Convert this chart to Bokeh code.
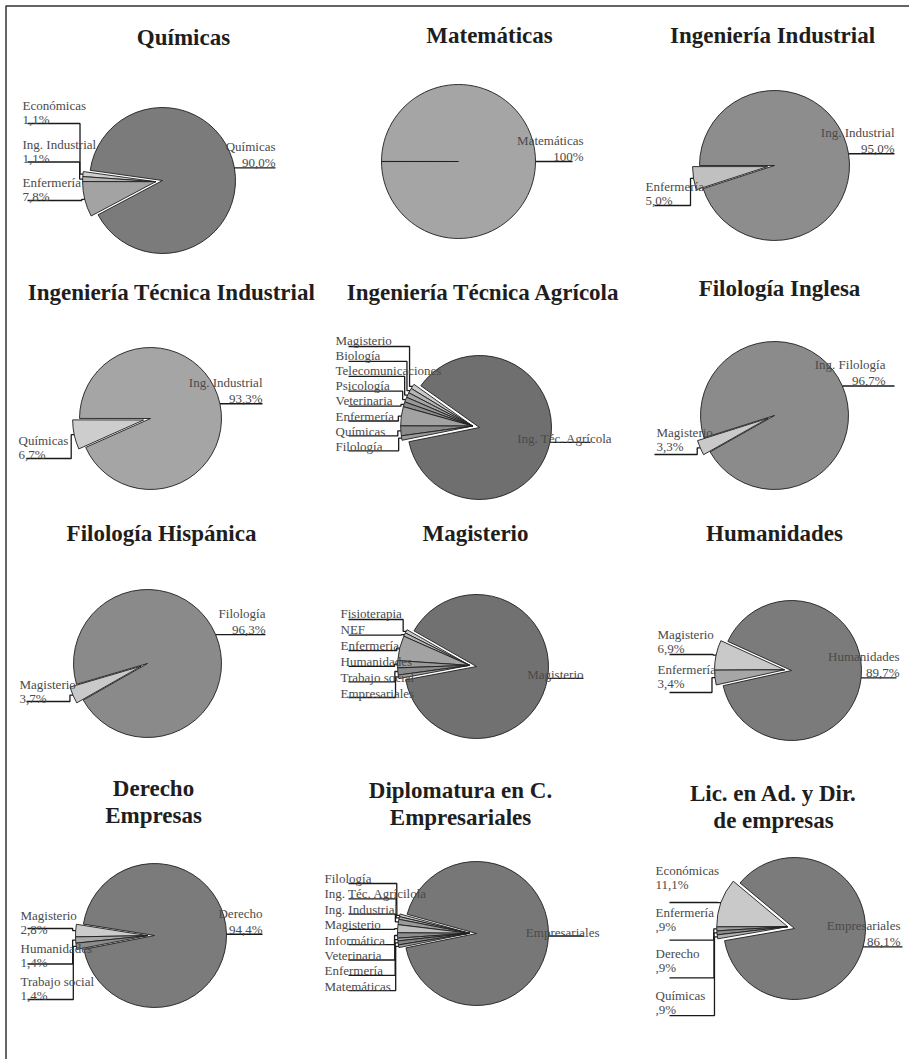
import numpy as np
from bokeh.plotting import figure
from bokeh.models import Range1d, ColumnDataSource
from bokeh.core.properties import value
from bokeh.embed import file_html
from bokeh.resources import INLINE

# ---------------- data (first entry = main slice, rest = small slices top->bottom) ----------------
quimicas_cats = ["Químicas", "Económicas", "Ing. Industrial", "Enfermería"]
quimicas_vals = [90.0, 1.1, 1.1, 7.8]

matematicas_cats = ["Matemáticas"]
matematicas_vals = [100.0]

ing_industrial_cats = ["Ing. Industrial", "Enfermería"]
ing_industrial_vals = [95.0, 5.0]

ing_tec_industrial_cats = ["Ing. Industrial", "Químicas"]
ing_tec_industrial_vals = [93.3, 6.7]

ing_tec_agricola_cats = ["Ing. Téc. Agrícola", "Magisterio", "Biología", "Telecomunicaciones",
                         "Psicología", "Veterinaria", "Enfermería", "Químicas", "Filología"]
ing_tec_agricola_vals = [87.0, 1.1, 1.1, 1.1, 1.1, 1.1, 4.3, 2.2, 1.0]

filologia_inglesa_cats = ["Ing. Filología", "Magisterio"]
filologia_inglesa_vals = [96.7, 3.3]

filologia_hispanica_cats = ["Filología", "Magisterio"]
filologia_hispanica_vals = [96.3, 3.7]

magisterio_cats = ["Magisterio", "Fisioterapia", "NEF", "Enfermería", "Humanidades",
                   "Trabajo social", "Empresariales"]
magisterio_vals = [88.8, 0.8, 0.8, 5.6, 1.6, 1.6, 0.8]

humanidades_cats = ["Humanidades", "Magisterio", "Enfermería"]
humanidades_vals = [89.7, 6.9, 3.4]

derecho_cats = ["Derecho", "Magisterio", "Humanidades", "Trabajo social"]
derecho_vals = [94.4, 2.8, 1.4, 1.4]

diplomatura_cats = ["Empresariales", "Filología", "Ing. Téc. Agrícilola", "Ing. Industrial",
                    "Magisterio", "Informática", "Veterinaria", "Enfermería", "Matemáticas"]
diplomatura_vals = [92.5, 0.6, 0.6, 1.2, 1.8, 1.2, 0.6, 0.9, 0.6]

ade_cats = ["Empresariales", "Económicas", "Enfermería", "Derecho", "Químicas"]
ade_vals = [86.1, 11.1, 0.9, 0.9, 0.9]

titles = [
    ["Químicas"], ["Matemáticas"], ["Ingeniería Industrial"],
    ["Ingeniería Técnica Industrial"], ["Ingeniería Técnica Agrícola"], ["Filología Inglesa"],
    ["Filología Hispánica"], ["Magisterio"], ["Humanidades"],
    ["Derecho", "Empresas"], ["Diplomatura en C.", "Empresariales"],
    ["Lic. en Ad. y Dir.", "de empresas"],
]

# ---------------- layout / style (page pixel coordinates) ----------------
SMALL_COLORS = ["#c9c9c9", "#a9a9a9", "#8f8f8f", "#b7b7b7", "#9c9c9c", "#a0a0a0", "#858585", "#b0b0b0"]

panels = [
    dict(cats=quimicas_cats, vals=quimicas_vals, tpos=(183, 37), cx=162, cy=180, r=73, mid=10,
         big="#7b7b7b", small=["#cfcfcf", "#b3b3b3", "#a3a3a3"],
         lab=dict(tx=22, ty0=105, tdy=38.5, lx=27, ly0=123, ldy=38.5, pct=True),
         rl=dict(le=275, te=275, pct=True)),
    dict(cats=matematicas_cats, vals=matematicas_vals, tpos=(489, 35), cx=458, cy=161, r=77, mid=0,
         big="#a5a5a5", small=[], lab=None, rl=dict(le=572, te=583, pct=True)),
    dict(cats=ing_industrial_cats, vals=ing_industrial_vals, tpos=(772, 35), cx=774, cy=165, r=75, mid=9,
         big="#8d8d8d", small=["#c0c0c0"],
         lab=dict(tx=645, ty0=186, tdy=38, lx=654, ly0=205, ldy=38, pct=True),
         rl=dict(le=894, te=894, pct=True)),
    dict(cats=ing_tec_industrial_cats, vals=ing_tec_industrial_vals, tpos=(171, 292), cx=150, cy=418, r=71, mid=12,
         big="#a5a5a5", small=["#cdcdcd"],
         lab=dict(tx=18, ty0=440, tdy=38, lx=26, ly0=458, ldy=38, pct=True),
         rl=dict(le=262, te=262, pct=True)),
    dict(cats=ing_tec_agricola_cats, vals=ing_tec_agricola_vals, tpos=(483, 292), cx=479, cy=427, r=72, mid=-12,
         big="#6f6f6f", small=["#c9c9c9", "#b5b5b5", "#a5a5a5", "#999999", "#8c8c8c", "#a2a2a2", "#8a8a8a", "#9a9a9a"],
         lab=dict(tx=335, ty0=340, tdy=15.1, lx=348, ly0=346, ldy=14.9, pct=False),
         rl=dict(le=590, te=612, pct=False)),
    dict(cats=filologia_inglesa_cats, vals=filologia_inglesa_vals, tpos=(779, 288), cx=774, cy=415, r=74, mid=23.5,
         big="#8b8b8b", small=["#c9c9c9"],
         lab=dict(tx=656, ty0=432, tdy=38, lx=654, ly0=454, ldy=38, pct=True),
         rl=dict(le=894, te=885, pct=True)),
    dict(cats=filologia_hispanica_cats, vals=filologia_hispanica_vals, tpos=(161, 533), cx=147, cy=663, r=74, mid=23,
         big="#8a8a8a", small=["#c9c9c9"],
         lab=dict(tx=19, ty0=684, tdy=38, lx=26, ly0=701, ldy=38, pct=True),
         rl=dict(le=265, te=265, pct=True)),
    dict(cats=magisterio_cats, vals=magisterio_vals, tpos=(475, 533), cx=476, cy=666, r=72, mid=-9.5,
         big="#717171", small=["#c9c9c9", "#b5b5b5", "#a3a3a3", "#9b9b9b", "#8a8a8a", "#9f9f9f"],
         lab=dict(tx=340, ty0=613, tdy=16, lx=348, ly0=619, ldy=15.6, pct=False),
         rl=dict(le=583, te=583, pct=False)),
    dict(cats=humanidades_cats, vals=humanidades_vals, tpos=(774, 533), cx=791, cy=670, r=70, mid=-6,
         big="#7b7b7b", small=["#c9c9c9", "#a6a6a6"],
         lab=dict(tx=657, ty0=634, tdy=35, lx=669, ly0=654, ldy=38, pct=True),
         rl=dict(le=896, te=899, pct=True)),
    dict(cats=derecho_cats, vals=derecho_vals, tpos=(153, 788), cx=154, cy=935, r=72, mid=1,
         big="#7b7b7b", small=["#cbcbcb", "#a8a8a8", "#8c8c8c"],
         lab=dict(tx=20, ty0=915, tdy=33, lx=27, ly0=928, ldy=35.5, pct=True),
         rl=dict(le=262, te=262, pct=True)),
    dict(cats=diplomatura_cats, vals=diplomatura_vals, tpos=(460, 790), cx=476, cy=933, r=72, mid=-2,
         big="#777777", small=["#c9c9c9", "#b0b0b0", "#9a9a9a", "#c0c0c0", "#8e8e8e", "#a8a8a8", "#858585", "#9e9e9e"],
         lab=dict(tx=324, ty0=878, tdy=15.4, lx=348, ly0=883, ldy=15.3, pct=False),
         rl=dict(le=583, te=599, pct=False)),
    dict(cats=ade_cats, vals=ade_vals, tpos=(773, 793), cx=794, cy=928, r=71, mid=-15,
         big="#7b7b7b", small=["#c9c9c9", "#9f9f9f", "#8a8a8a", "#b0b0b0"],
         lab=dict(tx=655, ty0=870, tdy=41.5, lx=669, ly0=902, ldy=37.7, pct=True),
         rl=dict(le=902, te=900, pct=True)),
]

EXPLODE = 7.0
SERIF = "Liberation Serif"


def fmt_pct(v):
    if v >= 99.95:
        return "100%"
    s = f"{v:.1f}".replace(".", ",")
    if s.startswith("0"):
        s = s[1:]
    return s + "%"


W, H = 909, 1059
p = figure(width=W, height=H, x_range=Range1d(0, W), y_range=Range1d(-H, 0),
           output_backend="svg", toolbar_location=None, min_border=0,
           x_axis_location=None, y_axis_location=None)
p.grid.visible = False
p.outline_line_color = None
p.background_fill_color = "white"
p.border_fill_color = "white"

wedges = dict(x=[], y=[], r=[], s=[], e=[], fill=[])
lead_xs, lead_ys = [], []
ltext = dict(x=[], y=[], t=[])
rtext = dict(x=[], y=[], t=[])
ttext = dict(x=[], y=[], t=[])

for k, pn in enumerate(panels):
    cats, vals = pn["cats"], np.array(pn["vals"], dtype=float)
    deg = vals / vals.sum() * 360.0
    cx, cy, r, m = pn["cx"], pn["cy"], pn["r"], pn["mid"]
    big_span = min(deg[0], 359.9)
    b0, b1 = m - big_span / 2, m + big_span / 2
    wedges["x"].append(cx); wedges["y"].append(-cy); wedges["r"].append(r)
    wedges["s"].append(np.radians(b0)); wedges["e"].append(np.radians(b1))
    wedges["fill"].append(pn["big"])

    # right label of main slice
    rl = pn["rl"]
    ax, ay = cx + r * np.cos(np.radians(m)), cy - r * np.sin(np.radians(m))
    lead_xs.append([ax, rl["le"]]); lead_ys.append([-ay, -ay])
    if rl["pct"]:
        rtext["x"] += [rl["te"], rl["te"]]
        rtext["y"] += [-(ay - 21), -(ay - 5)]
        rtext["t"] += [cats[0], fmt_pct(vals[0])]
    else:
        rtext["x"].append(rl["te"]); rtext["y"].append(-(ay - 4)); rtext["t"].append(cats[0])

    # small slices, exploded as a group
    if len(cats) > 1:
        g0 = b1
        gmid = np.radians(g0 + deg[1:].sum() / 2)
        ecx = cx + EXPLODE * np.cos(gmid)
        ecy = cy - EXPLODE * np.sin(gmid)
        a = g0
        lab = pn["lab"]
        for i in range(1, len(cats)):
            s, e = a, a + deg[i]
            a = e
            wedges["x"].append(ecx); wedges["y"].append(-ecy); wedges["r"].append(r)
            wedges["s"].append(np.radians(s)); wedges["e"].append(np.radians(e))
            cols = pn["small"] if pn["small"] else SMALL_COLORS
            wedges["fill"].append(cols[(i - 1) % len(cols)])
            am = np.radians((s + e) / 2)
            sx, sy = ecx + r * np.cos(am), ecy - r * np.sin(am)
            j = i - 1
            ly = lab["ly0"] + j * lab["ldy"]
            ty = lab["ty0"] + j * lab["tdy"]
            conn = sx - 3
            lead_xs.append([lab["lx"], conn, conn, sx])
            lead_ys.append([-ly, -ly, -sy, -sy])
            ltext["x"].append(lab["tx"]); ltext["y"].append(-ty); ltext["t"].append(cats[i])
            if lab["pct"]:
                ltext["x"].append(lab["tx"]); ltext["y"].append(-(ty + 14)); ltext["t"].append(fmt_pct(vals[i]))

    # title
    tx, ty = pn["tpos"]
    for li, line in enumerate(titles[k]):
        ttext["x"].append(tx); ttext["y"].append(-(ty + li * 27)); ttext["t"].append(line)

# frame (top and left edges)
p.multi_line(xs=[[5.5, 5.5, W]], ys=[[-H, -5.5, -5.5]], line_color="#333333", line_width=1.5)

p.wedge(x="x", y="y", radius="r", start_angle="s", end_angle="e", fill_color="fill",
        line_color="#1e1e1e", line_width=0.9, direction="anticlock",
        source=ColumnDataSource(wedges))

p.multi_line(xs=lead_xs, ys=lead_ys, line_color="#1a1a1a", line_width=1.3)

p.text(x="x", y="y", text="t", source=ColumnDataSource(ltext), text_align="left",
       text_baseline="alphabetic", text_font=value(SERIF), text_font_size="13px",
       text_color="#4a4a4a")
p.text(x="x", y="y", text="t", source=ColumnDataSource(rtext), text_align="right",
       text_baseline="alphabetic", text_font=value(SERIF), text_font_size="13px",
       text_color="#4a4a4a")
p.text(x="x", y="y", text="t", source=ColumnDataSource(ttext), text_align="center",
       text_baseline="middle", text_font=value(SERIF), text_font_size="23px",
       text_font_style="bold", text_color="#1e1e1e")

open("out.html", "w").write(file_html(p, INLINE))
